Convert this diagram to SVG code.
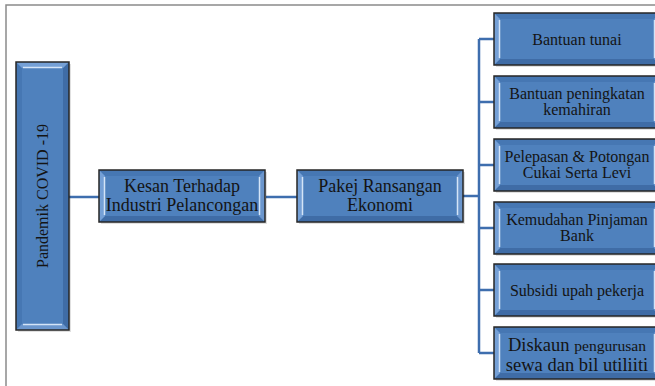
<svg xmlns="http://www.w3.org/2000/svg" width="655" height="386" viewBox="0 0 655 386">
<style>
.t{font-family:"Liberation Serif","Times New Roman",serif;fill:#141414;text-anchor:middle}
.s16{font-size:16px}
.s18{font-size:18.5px}
.s18b{font-size:18px}
.c{stroke:#3e6eae;stroke-width:2.5;fill:none}
</style>
<defs>
<g id="hbox">
<rect x="2" y="2" width="166" height="52" fill="#000" opacity="0.12"/>
<rect x="0" y="0" width="166" height="52" fill="#4f81bd"/>
<polygon points="0,0 166,0 160,6 6,6" fill="#4677b3"/>
<polygon points="0,52 166,52 160,46 6,46" fill="#3f6ca6"/>
<polygon points="0,0 6,6 6,46 0,52" fill="#75a0d6"/>
<polygon points="166,0 160,6 160,46 166,52" fill="#6b96cd"/>
<line x1="5.5" y1="7" x2="5.5" y2="45" stroke="#d4e4f7" stroke-width="1.5"/>
<line x1="160.5" y1="7" x2="160.5" y2="45" stroke="#d4e4f7" stroke-width="1.5"/>
<rect x="0" y="0" width="166" height="52" fill="none" stroke="#262626" stroke-width="1.5"/>
</g>
</defs>
<rect x="6" y="5" width="720" height="420" fill="#fff" stroke="#8a8a8a" stroke-width="1.5"/>
<g id="connectors">
<path class="c" d="M69 197H99"/>
<path class="c" d="M266 197H297"/>
<path class="c" d="M463 196H479"/>
<path class="c" d="M479 39V353"/>
<path class="c" d="M479 39H494M479 102H494M479 165H494M479 228H494M479 290H494M479 353H494"/>
</g>
<g id="pandemik">
<rect x="18" y="64" width="53" height="268" fill="#000" opacity="0.12"/>
<rect x="16" y="62" width="53" height="268" fill="#4f81bd"/>
<polygon points="16,62 22,68 22,324 16,330" fill="#4677b3"/>
<polygon points="69,62 63,68 63,324 69,330" fill="#3f6ca6"/>
<polygon points="16,62 69,62 63,68 22,68" fill="#75a0d6"/>
<polygon points="16,330 69,330 63,324 22,324" fill="#6b96cd"/>
<line x1="23" y1="67.5" x2="62" y2="67.5" stroke="#d4e4f7" stroke-width="1.5"/>
<line x1="23" y1="324.5" x2="62" y2="324.5" stroke="#d4e4f7" stroke-width="1.5"/>
<rect x="16" y="62" width="53" height="268" fill="none" stroke="#262626" stroke-width="1.5"/>
<text class="t s16" transform="translate(47.5,196) rotate(-90)">Pandemik COVID -19</text>
</g>
<g id="kesan">
<use href="#hbox" transform="translate(99,170)"/>
<text class="t s18b" x="182" y="191.5">Kesan Terhadap</text>
<text class="t s18b" x="182" y="211">Industri Pelancongan</text>
</g>
<g id="pakej">
<use href="#hbox" transform="translate(297,170)"/>
<text class="t s18b" x="380" y="191.5">Pakej Ransangan</text>
<text class="t s18b" x="380" y="211">Ekonomi</text>
</g>
<g id="n1">
<use href="#hbox" transform="translate(494,13)"/>
<text class="t s16" x="577" y="45">Bantuan tunai</text>
</g>
<g id="n2">
<use href="#hbox" transform="translate(494,76)"/>
<text class="t s16" x="577" y="99">Bantuan peningkatan</text>
<text class="t s16" x="577" y="115">kemahiran</text>
</g>
<g id="n3">
<use href="#hbox" transform="translate(494,139)"/>
<text class="t s16" x="577" y="162">Pelepasan &amp; Potongan</text>
<text class="t s16" x="577" y="178">Cukai Serta Levi</text>
</g>
<g id="n4">
<use href="#hbox" transform="translate(494,202)"/>
<text class="t s16" x="577" y="225">Kemudahan Pinjaman</text>
<text class="t s16" x="577" y="241">Bank</text>
</g>
<g id="n5">
<use href="#hbox" transform="translate(494,264)"/>
<text class="t s16" x="577" y="296">Subsidi upah pekerja</text>
</g>
<g id="n6">
<use href="#hbox" transform="translate(494,327)"/>
<text class="t" x="577" y="351"><tspan font-size="18.5px">Diskaun </tspan><tspan font-size="15.6px">pengurusan</tspan></text>
<text class="t s18" x="577" y="371">sewa dan bil utiliiti</text>
</g>
</svg>
